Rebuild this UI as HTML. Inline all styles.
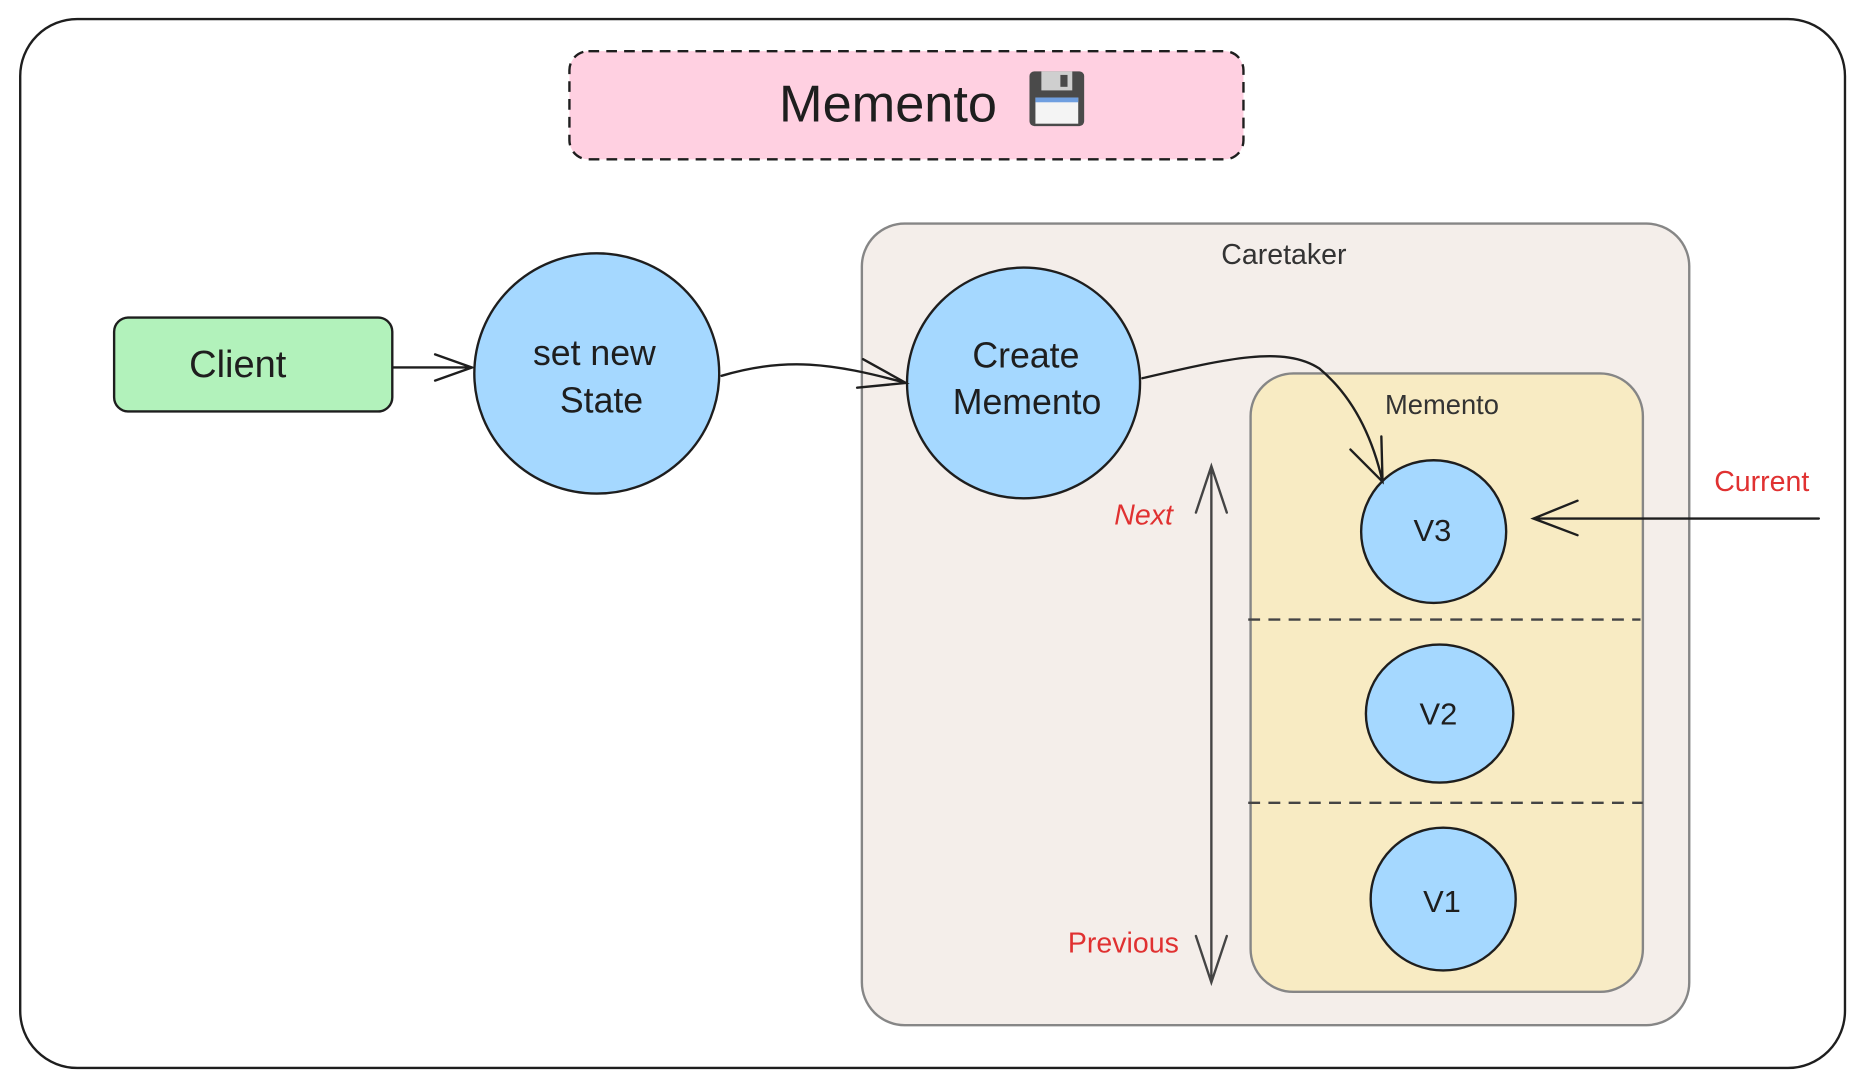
<!DOCTYPE html>
<html><head><meta charset="utf-8"><style>
html,body{margin:0;padding:0;background:#fff;width:1864px;height:1087px;overflow:hidden}
svg{display:block}
text{font-family:"Liberation Sans",sans-serif}
</style></head><body>
<svg width="1864" height="1087" viewBox="0 0 1568 914" preserveAspectRatio="none" xmlns="http://www.w3.org/2000/svg">
<rect x="17" y="16" width="1535" height="882" rx="48" fill="#fff" stroke="#1e1e1e" stroke-width="2"/>
<rect x="479" y="43" width="567" height="91" rx="16" fill="#ffd0e1" stroke="#1e1e1e" stroke-width="2" stroke-dasharray="9 6"/>
<text x="747" y="102" font-size="44" text-anchor="middle" fill="#1e1e1e">Memento</text>
<g transform="translate(866,60)">
<rect width="46" height="46" rx="4" fill="#4a4a4a"/>
<rect x="10" y="0" width="26" height="16" fill="#cfcfcf"/><rect x="26" y="3" width="6" height="10" fill="#4a4a4a"/>
<rect x="5" y="22" width="36" height="22" fill="#f4f4f4"/><rect x="5" y="22" width="36" height="4" fill="#6f9fe0"/>
</g>
<rect x="725" y="188" width="696" height="674" rx="36" fill="#f4eeea" stroke="#868686" stroke-width="2"/>
<text x="1080" y="222" font-size="24" text-anchor="middle" fill="#333">Caretaker</text>
<rect x="1052" y="314" width="330" height="520" rx="36" fill="#f8ebc3" stroke="#868686" stroke-width="2"/>
<text x="1213" y="348" font-size="23" text-anchor="middle" fill="#333">Memento</text>
<line x1="1050" y1="521" x2="1380" y2="521" stroke="#444" stroke-width="2" stroke-dasharray="10 7"/>
<line x1="1050" y1="675" x2="1382" y2="675" stroke="#444" stroke-width="2" stroke-dasharray="10 7"/>
<rect x="96" y="267" width="234" height="79" rx="12" fill="#b2f2bb" stroke="#1e1e1e" stroke-width="2"/>
<text x="200" y="317" font-size="32" text-anchor="middle" fill="#1e1e1e">Client</text>
<ellipse cx="502" cy="314" rx="103" ry="101" fill="#a5d8ff" stroke="#1e1e1e" stroke-width="2"/>
<text x="500" y="307" font-size="30" text-anchor="middle" fill="#1e1e1e">set new</text>
<text x="506" y="347" font-size="30" text-anchor="middle" fill="#1e1e1e">State</text>
<ellipse cx="861" cy="322" rx="98" ry="97" fill="#a5d8ff" stroke="#1e1e1e" stroke-width="2"/>
<text x="863" y="309" font-size="30" text-anchor="middle" fill="#1e1e1e">Create</text>
<text x="864" y="348" font-size="30" text-anchor="middle" fill="#1e1e1e">Memento</text>
<ellipse cx="1206" cy="447" rx="61" ry="60" fill="#a5d8ff" stroke="#1e1e1e" stroke-width="2"/>
<text x="1205" y="455" font-size="26" text-anchor="middle" fill="#1e1e1e">V3</text>
<ellipse cx="1211" cy="600" rx="62" ry="58" fill="#a5d8ff" stroke="#1e1e1e" stroke-width="2"/>
<text x="1210" y="609" font-size="26" text-anchor="middle" fill="#1e1e1e">V2</text>
<ellipse cx="1214" cy="756" rx="61" ry="60" fill="#a5d8ff" stroke="#1e1e1e" stroke-width="2"/>
<text x="1213" y="767" font-size="26" text-anchor="middle" fill="#1e1e1e">V1</text>
<g fill="none" stroke="#1e1e1e" stroke-width="2" stroke-linecap="round">
<path d="M331 309 L397 309 M366 298 L397 309 L366 320"/>
<path d="M607 316 C660 300 700 305 762 322 M726 302 L762 322 L721 326"/>
<path d="M961 318 C1030 302 1080 290 1110 310 C1140 335 1155 370 1163 405 M1136 378 L1163 405 L1162 367"/>
<path d="M1530 436 L1290 436 M1327 421 L1290 436 L1327 450"/>
<path d="M1019 392 L1019 826 M1006 431 L1019 392 L1032 431 M1006 787 L1019 826 L1032 787" stroke="#444"/>
</g>
<text x="1482" y="413" font-size="24" text-anchor="middle" fill="#e03131">Current</text>
<text x="962" y="441" font-size="24" text-anchor="middle" fill="#e03131" font-style="italic">Next</text>
<text x="945" y="801" font-size="24" text-anchor="middle" fill="#e03131">Previous</text>
</svg>
</body></html>
